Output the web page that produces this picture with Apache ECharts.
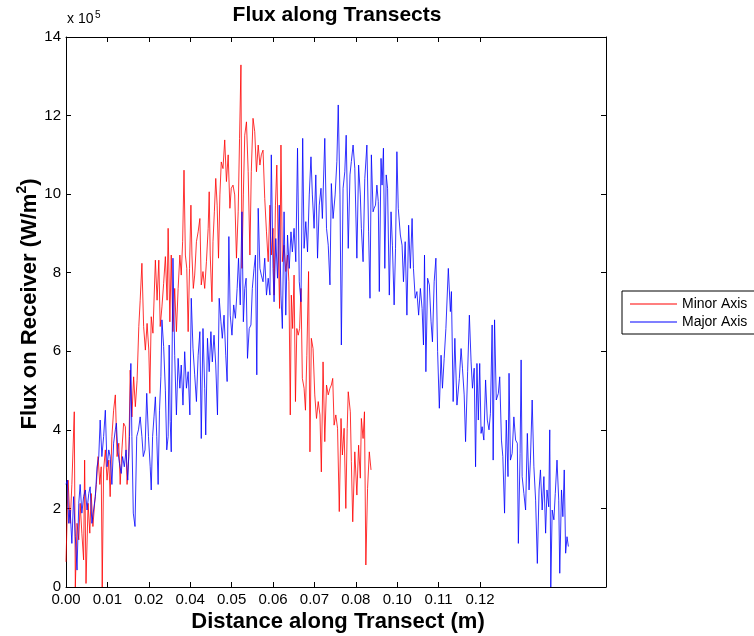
<!DOCTYPE html>
<html>
<head>
<meta charset="utf-8">
<script src="https://cdn.jsdelivr.net/npm/echarts@6/dist/echarts.min.js"></script>
<style>
html,body{margin:0;padding:0;background:#fff;}
#c{width:754px;height:636px;}
</style>
</head>
<body>
<div id="c"></div>
<script>
// ---- data (distance in mm, flux in units of 1e5 W/m^2) ----
const xTickLabels = ['0.00','0.01','0.02','0.04','0.05','0.06','0.07','0.08','0.10','0.11','0.12'];
const xTickStep = 12;      // mm between x ticks
const yTickValues = [0,2,4,6,8,10,12,14];

const minorX = [0.0,0.6,1.2,1.7,2.4,2.7,3.2,3.7,4.1,4.6,
5.1,5.4,5.8,6.4,6.9,7.3,7.8,8.3,8.8,9.3,
9.8,10.2,10.5,10.9,11.4,11.9,12.4,12.8,13.3,13.8,
14.3,14.8,15.3,15.7,16.2,16.7,17.2,17.7,18.2,18.6,
19.1,19.6,20.1,20.6,21.1,21.5,22.0,22.5,23.0,23.5,
24.0,24.3,24.7,25.2,25.9,26.4,26.9,27.3,27.8,28.3,
28.8,29.3,29.6,30.1,30.5,31.0,31.5,32.0,32.5,33.0,
33.4,33.8,34.2,34.6,35.0,35.4,35.8,36.2,36.5,36.9,
37.3,37.8,38.3,38.8,39.2,39.7,40.2,40.7,41.2,41.5,
41.8,42.3,42.6,43.0,43.4,43.8,44.2,44.6,45.0,45.5,
46.0,46.5,47.0,47.5,47.9,48.4,48.9,49.4,49.9,50.3,
50.7,51.0,51.4,51.8,52.3,52.8,53.3,53.7,54.2,54.7,
55.2,55.7,56.2,56.6,57.1,57.6,58.1,58.6,59.1,59.5,
60.0,60.3,60.7,61.1,61.5,61.9,62.3,62.7,63.2,63.7,
64.2,64.6,65.0,65.3,65.7,66.1,66.5,66.9,67.3,67.7,
68.1,68.5,69.0,69.4,69.8,70.3,70.7,71.1,71.6,72.1,
72.6,73.1,73.6,74.0,74.5,75.0,75.5,76.0,76.5,76.9,
77.3,77.7,78.2,78.7,79.2,79.7,80.1,80.6,81.1,81.5,
81.8,82.4,82.7,83.1,83.7,84.3,84.8,85.3,85.6,86.1,
86.5,86.9,87.4,87.9,88.4];
const minorFlux = [0.64,2.72,1.62,2.61,4.46,0.0,1.62,1.2,2.13,1.37,
0.69,3.23,0.09,2.13,1.37,2.38,1.54,2.13,2.61,3.32,
2.61,3.06,0,2.98,3.49,2.72,3.23,2.3,3.83,4.5,
4.89,3.32,3.66,2.61,3.49,4.17,4.08,2.61,3.32,5.52,
4.33,5.35,4.59,5.26,6.63,7.3,8.24,6.63,6.03,6.71,
6.03,4.93,6.88,6.46,8.32,7.3,8.32,6.63,7.13,7.73,
8.41,7.3,9.13,6.75,8.45,6.5,7.6,6.5,7.6,8.45,
7.94,8.79,10.61,8.45,8.11,6.5,8.11,9.72,8.45,7.6,
7.94,8.79,9.04,9.38,7.69,8.03,7.6,8.28,9.13,10.06,
8.45,7.26,8.79,9.55,10.4,9.72,8.37,9.98,10.82,10.65,
11.38,10.32,11.0,9.64,10.15,10.23,9.98,8.37,9.55,11.42,
13.29,8.11,9.98,11.5,11.84,10.57,8.45,10.57,11.93,11.59,
10.57,11.25,10.74,11.0,11.12,9.89,9.04,8.28,9.72,8.45,
9.13,7.43,9.72,10.74,8.7,7.09,11.25,8.28,8.7,8.03,
8.45,7.77,4.38,7.43,6.58,7.94,4.72,6.58,6.41,6.58,
7.6,5.31,5.06,4.5,5.9,8.03,3.44,6.33,6.07,4.89,
4.29,4.72,4.38,2.93,5.73,3.7,5.14,4.89,5.06,5.14,
5.31,4.12,4.38,4.04,1.92,4.29,3.36,4.04,2.0,4.04,
4.97,4.46,3.19,1.66,3.44,2.34,3.61,2.77,4.29,3.78,
4.46,0.56,2.51,3.44,2.98];

const majorX = [0.0,0.4,0.8,1.2,1.7,2.2,2.7,3.2,3.7,4.1,
4.6,5.1,5.6,6.1,6.6,7.0,7.5,8.0,8.5,9.0,
9.5,9.9,10.4,10.9,11.4,11.9,12.4,12.8,13.3,13.8,
14.3,14.6,15.0,15.5,16.0,16.4,16.9,17.4,17.9,18.4,
18.8,19.1,19.5,20.0,20.5,21.0,21.5,22.0,22.4,22.9,
23.4,23.9,24.4,24.7,25.1,25.5,25.9,26.3,26.7,27.1,
27.5,27.8,28.3,28.8,29.2,29.6,29.9,30.2,30.5,31.0,
31.5,32.0,32.5,33.0,33.4,33.9,34.4,34.9,35.4,35.9,
36.3,36.8,37.3,37.8,38.3,38.8,39.2,39.7,40.2,40.5,
41.0,41.5,42.0,42.4,42.9,43.4,43.9,44.4,44.9,45.3,
45.8,46.3,46.7,47.2,47.6,48.1,48.6,49.1,49.6,50.0,
50.5,51.0,51.4,51.8,52.2,52.6,53.1,53.6,54.0,54.5,
54.9,55.3,55.7,56.2,56.6,57.1,57.6,58.1,58.6,59.1,
59.5,60.0,60.3,60.8,61.3,61.8,62.3,62.7,63.2,63.7,
64.2,64.7,65.2,65.6,66.1,66.6,67.1,67.6,68.1,68.6,
69.0,69.5,70.0,70.5,71.0,71.4,71.9,72.4,72.9,73.4,
73.9,74.3,75.0,75.5,76.0,76.5,76.9,77.4,78.0,78.5,
78.9,79.4,79.8,80.3,80.8,81.2,81.8,82.3,82.7,83.2,
83.7,84.3,84.8,85.3,85.6,86.1,86.6,87.2,87.7,88.1,
88.5,89.0,89.3,89.7,90.1,90.5,90.8,91.3,91.6,92.0,
92.4,92.8,93.2,93.7,94.2,94.6,95.1,95.5,95.9,96.3,
96.9,97.4,97.8,98.3,98.8,99.3,99.8,100.3,100.7,101.2,
101.7,102.2,102.7,103.2,103.6,103.9,104.3,104.8,105.3,105.8,
106.2,106.7,107.2,107.7,108.2,108.7,109.1,109.6,110.1,110.8,
111.4,111.7,112.2,112.7,113.3,114.0,114.5,114.9,115.4,115.8,
116.4,116.9,117.4,117.8,118.3,118.7,119.1,119.5,119.9,120.3,
120.6,121.1,121.6,122.1,122.6,123.0,123.5,123.8,124.2,124.7,
125.3,125.7,126.2,126.6,127.1,127.6,128.1,128.4,128.8,129.3,
129.8,130.3,130.8,131.1,131.6,131.9,132.2,132.7,133.2,133.7,
134.2,134.6,135.1,135.6,136.1,136.6,137.1,137.5,138.0,138.5,
139.0,139.4,139.9,140.2,140.5,140.9,141.4,141.8,142.3,142.8,
143.1,143.6,144.0,144.4,144.8,145.2,145.6];
const majorFlux = [2.61,2.72,1.62,1.96,1.11,2.3,1.28,0.43,2.13,2.61,
1.88,2.3,2.47,1.96,2.38,2.55,1.62,1.96,2.3,3.06,
3.32,4.25,3.32,3.83,4.5,3.06,3.49,3.32,2.61,3.66,
4.0,4.17,3.49,3.15,2.89,3.32,3.06,3.49,2.72,3.83,
5.69,3.83,1.88,1.54,3.83,4.0,4.33,3.83,3.32,3.49,
4.93,3.83,3.06,2.47,3.83,4.33,4.84,3.83,2.61,4.5,
5.35,6.8,6.12,5.01,3.49,3.83,6.16,4.21,3.44,8.37,
5.9,4.38,5.82,5.06,5.65,4.63,5.99,5.06,5.48,4.38,
7.35,6.08,5.4,4.72,5.9,6.5,3.78,6.58,5.06,3.87,
6.33,5.48,6.5,5.73,6.41,5.65,4.38,7.35,6.75,6.33,
6.92,5.9,5.23,8.92,6.92,6.41,7.18,6.84,7.6,8.37,
7.18,9.55,6.75,7.6,7.86,5.82,6.58,6.67,7.6,8.11,
8.45,5.4,9.64,8.11,7.94,7.77,8.37,7.43,7.86,7.43,
11.0,8.11,7.26,8.87,7.86,9.72,7.43,6.58,9.55,6.92,
8.96,8.11,9.04,8.53,9.13,8.28,11.17,7.77,7.26,11.42,
8.62,9.3,8.53,9.98,10.95,9.98,9.13,10.49,8.37,9.72,
10.15,9.38,11.42,9.13,8.7,7.69,10.27,9.38,9.98,10.83,
12.27,9.98,6.16,10.15,10.57,11.5,8.62,10.49,10.83,11.25,
10.66,8.37,10.74,9.98,9.13,8.28,10.4,11.25,9.04,7.35,
11.0,9.55,9.64,9.72,10.23,9.81,7.52,10.91,10.23,11.17,
8.11,10.49,10.15,7.43,9.55,8.7,7.18,8.62,11.08,9.64,
8.96,8.7,7.77,8.79,6.92,9.21,8.11,9.38,8.11,7.35,
7.52,6.92,7.6,7.09,6.16,8.45,5.48,7.86,7.69,6.75,
6.24,7.77,8.37,5.99,4.55,5.9,5.06,5.82,6.58,8.11,
7.01,7.52,4.72,6.33,4.63,5.31,6.07,5.57,4.89,3.7,
5.48,6.92,5.73,5.06,5.57,3.06,5.69,4.25,5.69,3.91,
4.08,3.74,5.27,4.25,4.0,4.42,6.67,3.23,6.8,4.76,
4.93,5.35,3.74,3.32,1.88,4.25,2.81,5.44,3.23,3.4,
4.33,3.74,3.66,1.11,3.4,5.78,2.81,2.38,1.96,3.91,
2.47,3.23,4.76,3.06,2.21,0.6,2.47,2.98,1.96,2.81,
1.37,2.47,2.04,4.0,0,1.96,1.71,2.38,3.23,2.21,
0.35,2.47,1.79,2.98,0.86,1.28,1.03];

// ---- chart ----
const FONT = '"Liberation Sans", Arial, Helvetica, sans-serif';
const xTickPositions = xTickLabels.map((_, i) => i * xTickStep);
const zip = (xs, ys) => xs.map((x, i) => [x, ys[i]]);

const chart = echarts.init(document.getElementById('c'), null, {renderer: 'canvas'});

const axisLine = {show: true, onZero: false, lineStyle: {color: '#000', width: 1}};
const xBase = {
  type: 'value', min: 0, max: 156.5, interval: xTickStep,
  axisLine: axisLine,
  splitLine: {show: false},
  axisTick: {show: true, inside: true, length: 5, lineStyle: {color: '#000'}, customValues: xTickPositions}
};
const yBase = {
  type: 'value', min: 0, max: 14, interval: 2,
  axisLine: axisLine,
  splitLine: {show: false},
  axisTick: {show: true, inside: true, length: 5, lineStyle: {color: '#000'}}
};

chart.setOption({
  animation: false,
  backgroundColor: '#fff',
  grid: {left: 66, right: 148, top: 37, bottom: 49, containLabel: false},
  xAxis: [
    Object.assign({}, xBase, {
      position: 'bottom',
      axisLabel: {
        show: true, margin: 5, color: '#000', fontSize: 15, fontFamily: FONT,
        customValues: xTickPositions,
        formatter: v => { const k = Math.round(v / xTickStep); return xTickLabels[k] !== undefined ? xTickLabels[k] : ''; }
      }
    }),
    Object.assign({}, xBase, {position: 'top', axisLabel: {show: false}})
  ],
  yAxis: [
    Object.assign({}, yBase, {
      position: 'left',
      axisLabel: {show: true, margin: 5, color: '#000', fontSize: 15, fontFamily: FONT,
        formatter: v => yTickValues.indexOf(v) >= 0 ? String(v) : ''}
    }),
    Object.assign({}, yBase, {position: 'right', axisLabel: {show: false}})
  ],
  legend: {
    orient: 'vertical',
    left: 622, top: 291,
    padding: [6, 60, 5, 8],
    icon: 'rect',
    itemWidth: 47, itemHeight: 1, itemGap: 4,
    borderColor: '#000', borderWidth: 1, backgroundColor: '#fff',
    textStyle: {color: '#000', fontSize: 14, fontFamily: FONT},
    data: ['Minor Axis', 'Major Axis']
  },
  series: [
    {
      name: 'Minor Axis', type: 'line', xAxisIndex: 0, yAxisIndex: 0,
      data: zip(minorX, minorFlux),
      symbol: 'none', showSymbol: false,
      lineStyle: {color: '#ff0000', width: 1, opacity: 0.8},
      itemStyle: {color: '#ff0000'}
    },
    {
      name: 'Major Axis', type: 'line', xAxisIndex: 0, yAxisIndex: 0,
      data: zip(majorX, majorFlux),
      symbol: 'none', showSymbol: false,
      lineStyle: {color: '#0000ff', width: 1, opacity: 0.8},
      itemStyle: {color: '#0000ff'}
    }
  ],
  graphic: [
    {type: 'text', x: 337, y: 15, style: {text: 'Flux along Transects', fontSize: 21, fontWeight: 'bold', fontFamily: FONT, fill: '#000', textAlign: 'center', textVerticalAlign: 'middle'}},
    {type: 'text', x: 338, y: 622, style: {text: 'Distance along Transect (m)', fontSize: 22, fontWeight: 'bold', fontFamily: FONT, fill: '#000', textAlign: 'center', textVerticalAlign: 'middle'}},
    {type: 'text', x: 67, y: 26, style: {text: 'x 10', fontSize: 14, fontFamily: FONT, fill: '#000', textAlign: 'left', textVerticalAlign: 'bottom'}},
    {type: 'text', x: 95, y: 20, style: {text: '5', fontSize: 10, fontFamily: FONT, fill: '#000', textAlign: 'left', textVerticalAlign: 'bottom'}},
    {type: 'text', x: 28, y: 304, rotation: Math.PI / 2,
      style: {text: '{n|Flux on Receiver (W/m}{s|2}{n|)}', textAlign: 'center', textVerticalAlign: 'middle', fill: '#000',
        rich: {n: {fontSize: 22, fontWeight: 'bold', fontFamily: FONT, lineHeight: 26, verticalAlign: 'bottom'},
               s: {fontSize: 14, fontWeight: 'bold', fontFamily: FONT, verticalAlign: 'top'}}}}
  ]
});
</script>
</body>
</html>
